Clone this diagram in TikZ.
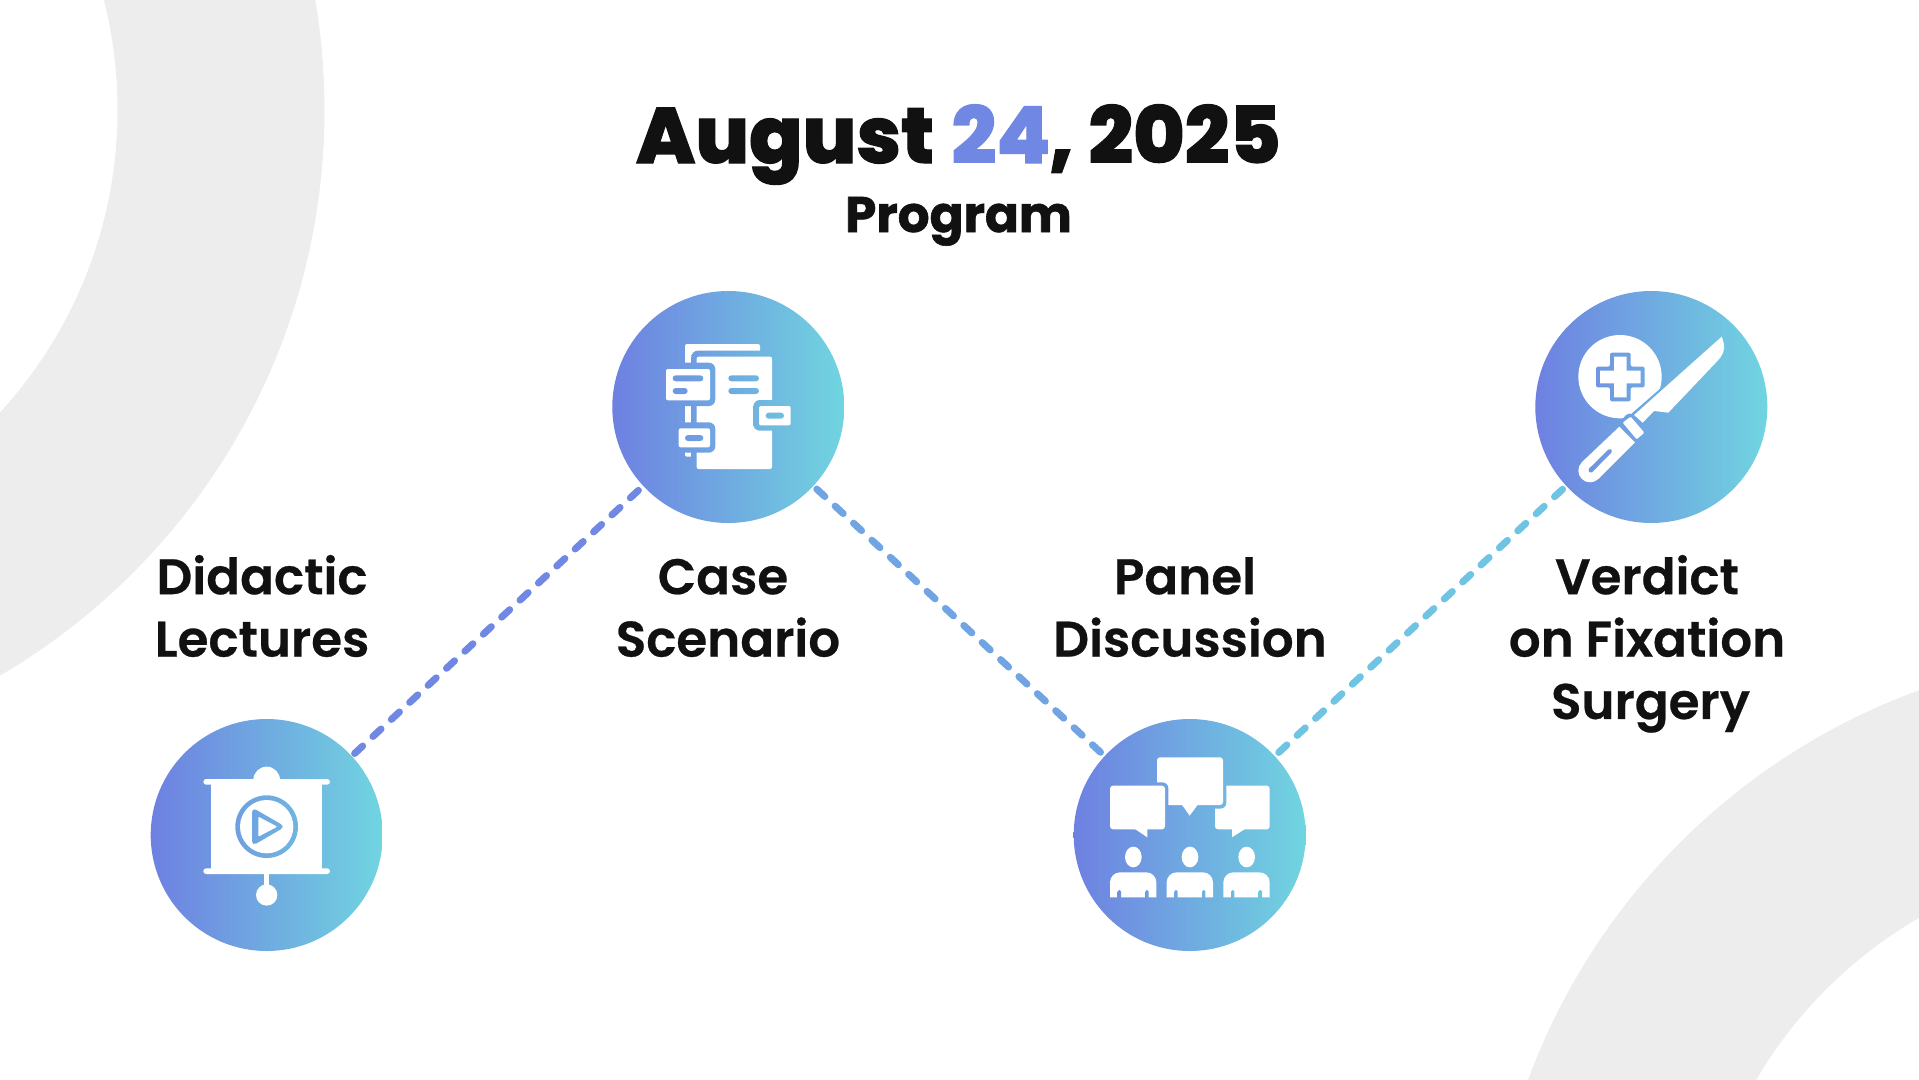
\documentclass[tikz,border=0pt]{standalone}
\usepackage{fontspec}
\setmainfont{Poppins}
\newfontfamily\titlefont{Poppins ExtraBold}[FakeBold=1.5]
\newfontfamily\subfont{Poppins Bold}[FakeBold=1.2]
\newfontfamily\labelfont{Poppins SemiBold}[FakeBold=0.5]
\usetikzlibrary{calc}
\definecolor{gradL}{HTML}{6E80E1}
\definecolor{gradR}{HTML}{70D5E0}
\definecolor{ringgray}{HTML}{EDEDED}
\definecolor{ink}{HTML}{111111}
\definecolor{accent}{HTML}{7088E3}
\definecolor{lineA}{HTML}{7088E3}
\definecolor{lineB}{HTML}{70A4E3}
\definecolor{lineC}{HTML}{6FC3E3}
\tikzset{
  disc/.style={shading=axis,left color=gradL,right color=gradR,shading angle=90},
  stepdisc/.style={circle,minimum size=232pt,inner sep=0pt,
    path picture={\shade[disc] ([shift={(-1pt,-1pt)}]path picture bounding box.south west) rectangle ([shift={(1pt,1pt)}]path picture bounding box.north east);}},
  link/.style={line width=7pt,line cap=round,dash pattern=on 11pt off 14.07pt},
  labelnode/.style={font=\labelfont\fontsize{50}{62.4}\selectfont,text=ink,align=center,inner sep=0pt,anchor=north},
}
% icons: coordinates are given in 3x zoomed pixels of the icon's box
\newcommand\wrect[5]{\fill[white,rounded corners=#5pt] (#1,#2) rectangle (#3,#4);}
\newcommand\cutpath[1]{\begin{scope}\clip #1;\shade[disc] ({\cx-351},{\cy-351}) rectangle ({\cx+351},{\cy+351});\end{scope}}
\newcommand\cutrect[5]{\cutpath{[rounded corners=#5pt] (#1,#2) rectangle (#3,#4)}}
\begin{document}
\begin{tikzpicture}[x=1pt,y=-1pt]
\useasboundingbox (0,0) rectangle (1919,1079);
\begin{scope}
\clip (0,0) rectangle (1919,1079);
\fill[ringgray,even odd rule] (-330.5,110) circle [radius=655] (-330.5,110) circle [radius=448];
\fill[ringgray,even odd rule] (2143,1306) circle [radius=655] (2143,1306) circle [radius=448];
\end{scope}

\node[anchor=base,inner sep=0pt,font=\titlefont\fontsize{78.5}{90}\selectfont,text=ink] (title) at (958.5,163) {August \kern2.5pt{\color{accent}24}\kern-1.5pt, 2025};
\node[anchor=base,inner sep=0pt,font=\subfont\fontsize{50}{58}\selectfont,text=ink] (sub) at (958.5,232) {Program};

\coordinate (p1) at (266.7,835);
\coordinate (p2) at (728.3,407);
\coordinate (p3) at (1189.7,835);
\coordinate (p4) at (1651.3,407);

\draw[link,lineA,dash phase=5.5pt] (p1) -- (p2);
\draw[link,lineB,dash phase=4.7pt] (p2) -- (p3);
\draw[link,lineC,dash phase=3.9pt] (p3) -- (p4);

\node[stepdisc] (lect) at (p1) {};
\node[stepdisc] (case) at (p2) {};
\node[stepdisc] (panel) at (p3) {};
\node[stepdisc] (verd) at (p4) {};

\node[labelnode] (t1) at (262,550.3) {\strut Didactic\\Lectures};
\node[labelnode] (t2) at (728,550.3) {\strut Case\hspace*{10pt}\\Scenario};
\node[labelnode] (t3) at (1190,550.3) {\strut Panel\hspace*{10pt}\\Discussion};
\node[labelnode] (t4) at (1647,550.3) {\strut Verdict\\on Fixation\\\hspace*{7pt}Surgery};

% Case scenario icon
\begin{scope}[shift={(600,280)},scale=1/3]
\def\cx{385}\def\cy{381}
\wrect{255}{192}{480}{530}{2}
\cutrect{274}{212}{530}{580}{6.5}
\wrect{290}{230}{516}{567}{2}
\cutrect{385}{286}{477}{304}{3}
\cutrect{385}{324}{477}{342}{3}
\cutrect{180}{248}{346}{378}{6.5}
\wrect{198}{267}{330}{361}{2}
\cutrect{218}{286}{310}{304}{3}
\cutrect{218}{324}{263}{342}{3}
\cutrect{460}{360}{590}{452}{6.5}
\wrect{477}{378}{572}{436}{2}
\cutrect{497}{398}{552}{416}{3}
\cutrect{218}{427}{346}{518}{6.5}
\wrect{236}{445}{330}{502}{2}
\cutrect{255}{465}{310}{483}{3}
\end{scope}

% Scalpel icon
\begin{scope}[shift={(1530,280)},scale=1/3]
\def\cx{364}\def\cy{381}
\fill[white] (270,290) circle [radius=125];
\cutpath{[rounded corners=2pt] (240,218) -- (302,218) -- (302,260) -- (344,260) -- (344,322) -- (302,322) -- (302,364) -- (240,364) -- (240,322) -- (198,322) -- (198,260) -- (240,260) -- cycle}
\fill[white] (252,230) -- (290,230) -- (290,272) -- (332,272) -- (332,310) -- (290,310) -- (290,352) -- (252,352) -- (252,310) -- (210,310) -- (210,272) -- (252,272) -- cycle;
\cutpath{(300,405) -- (395,322) -- (420,340) -- (330,430) -- cycle}
\fill[white] (312,405) -- (575,170) .. controls (585,195) and (587,215) .. (565,240) -- (415,398) -- (372,393) -- (338,428) -- cycle;
\fill[white] (268,440) -- (315,487) -- (205,597) -- (155,547) -- cycle;
\fill[white] (180,572) circle [radius=35];
\cutpath{[rounded corners=5pt] (264,432) -- (298,394) -- (358,458) -- (320,490) -- cycle}
\fill[white,rounded corners=1pt] (278,428) -- (302,410) -- (343,458) -- (320,478) -- cycle;
\cutpath{[rounded corners=1.5pt] (173,570) -- (239,505) -- (248,514) -- (183,580) -- cycle}
\end{scope}

% Projection screen icon
\begin{scope}[shift={(140,710)},scale=1/3]
\def\cx{380}\def\cy{375}
\fill[white] (340,210) arc [start angle=180,end angle=360,radius=40] -- cycle;
\wrect{190}{207}{570}{224}{2.8}
\wrect{190}{475}{570}{492}{2.8}
\fill[white] (214,207) rectangle (546,492);
\fill[white] (372,490) rectangle (388,530);
\fill[white] (380,555) circle [radius=32];
\cutpath{(380,350) circle [radius=94]}
\fill[white] (380,350) circle [radius=80];
\cutpath{[rounded corners=5pt] (336,292) -- (436,350) -- (336,408) -- cycle}
\fill[white,rounded corners=1pt] (355,320) -- (412,350) -- (355,380) -- cycle;
\end{scope}

% Panel icon
\begin{scope}[shift={(1060,710)},scale=1/3]
\def\cx{389}\def\cy{375}
\fill[white,rounded corners=3pt] (465,227) rectangle (629,358);
\fill[white] (516,355) -- (516,382) -- (558,355) -- cycle;
\cutrect{330}{130}{499}{296}{6}
\fill[white,rounded corners=3pt] (291,142) rectangle (489,285);
\fill[white] (365,283) -- (389,317) -- (414,283) -- cycle;
\cutrect{130}{217}{325}{368}{6}
\fill[white,rounded corners=3pt] (150,227) rectangle (315,358);
\fill[white] (222,355) -- (262,382) -- (262,355) -- cycle;
\foreach \dx in {0,170,340}{
  \pgfmathsetmacro\hx{220+\dx}
  \pgfmathsetmacro\lx{150+\dx}
  \pgfmathsetmacro\lb{259+\dx}
  \pgfmathsetmacro\rx{289+\dx}
  \pgfmathsetmacro\sa{173+\dx}
  \pgfmathsetmacro\sb{183+\dx}
  \pgfmathsetmacro\sc{256+\dx}
  \pgfmathsetmacro\sd{266+\dx}
  \fill[white] (\hx,441) ellipse [x radius=25,y radius=31];
  \fill[white] (\lx,562) -- (\lx,517) arc [start angle=180,end angle=270,radius=30] -- (\lb,487) arc [start angle=270,end angle=360,radius=30] -- (\rx,562) -- cycle;
  \cutrect{\sa}{540}{\sb}{575}{1.5}
  \cutrect{\sc}{540}{\sd}{575}{1.5}
}
\end{scope}
\end{tikzpicture}
\end{document}
